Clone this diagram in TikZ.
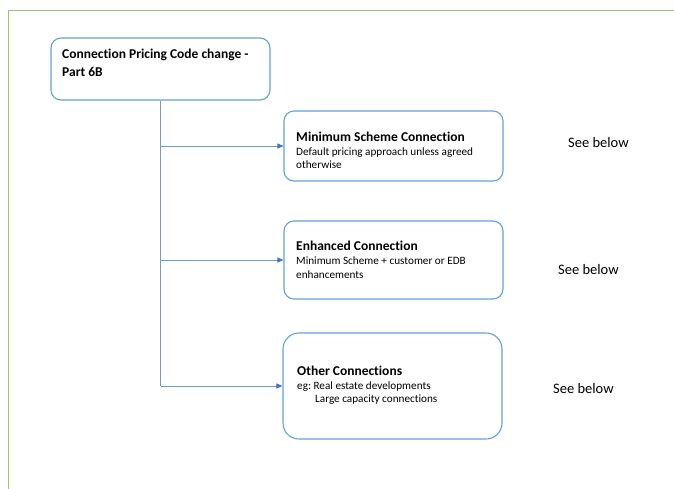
\documentclass[tikz,border=0pt]{standalone}
\usepackage{fontspec}
\setmainfont{Carlito}[Ligatures=NoCommon]
\usetikzlibrary{arrows.meta,positioning}
\definecolor{framegreen}{RGB}{150,198,112}
\definecolor{boxblue}{RGB}{104,158,218}
\definecolor{tipblue}{RGB}{68,114,196}
\frenchspacing
\begin{document}
\begin{tikzpicture}[x=1pt,y=-1pt,
  box/.style={draw=boxblue,line width=1.1pt,rounded corners=10pt,inner sep=0pt},
  head/.style={anchor=base west,inner sep=0pt,font=\fontsize{13.5}{17.5}\selectfont\bfseries,align=left},
  body/.style={anchor=base west,inner sep=0pt,font=\fontsize{11.2}{13.5}\selectfont,align=left},
  see/.style={anchor=west,inner sep=0pt,font=\fontsize{14.5}{17}\selectfont},
  link/.style={draw=boxblue,line width=0.9pt},
  tip/.style={link,-{Triangle[length=6pt,width=5pt,color=tipblue]}}]
\clip (0,0) rectangle (674,488);
\draw[framegreen,line width=1pt] (8,10) rectangle (700,520);
\node[box,minimum width=219pt,minimum height=62pt] (code) at (160.5,69) {};
\node[head] (codetxt) at (62,76) {Connection Pricing Code change -\\Part 6B};
\node[box,minimum width=219pt,minimum height=70pt] (mini) at (393.5,146) {};
\node[head] (minihead) at (296,141) {Minimum Scheme Connection};
\node[body] (minibody) at (296,168.5) {Default pricing approach unless agreed\\otherwise};
\node[see] (minisee) at (568,143) {See below};
\node[box,minimum width=219pt,minimum height=78pt] (enh) at (393.5,260) {};
\node[head] (enhhead) at (296,250.5) {Enhanced Connection};
\node[body] (enhbody) at (296,278) {Minimum Scheme + customer or EDB\\enhancements};
\node[see] (enhsee) at (558,270) {See below};
\node[box,rounded corners=16pt,minimum width=219pt,minimum height=106pt] (other) at (392.5,386) {};
\node[head] (otherhead) at (297,375.5) {Other Connections};
\node[body] (otherbody) at (297,402.5) {eg: Real estate developments\\\hspace*{18pt}Large capacity connections};
\node[see] (othersee) at (553,389) {See below};
\draw[link] (code.south) -- (code.south |- other.west);
\draw[tip] (code.south |- mini.west) -- (mini.west);
\draw[tip] (code.south |- enh.west) -- (enh.west);
\draw[tip] (code.south |- other.west) -- (other.west);
\end{tikzpicture}
\end{document}
